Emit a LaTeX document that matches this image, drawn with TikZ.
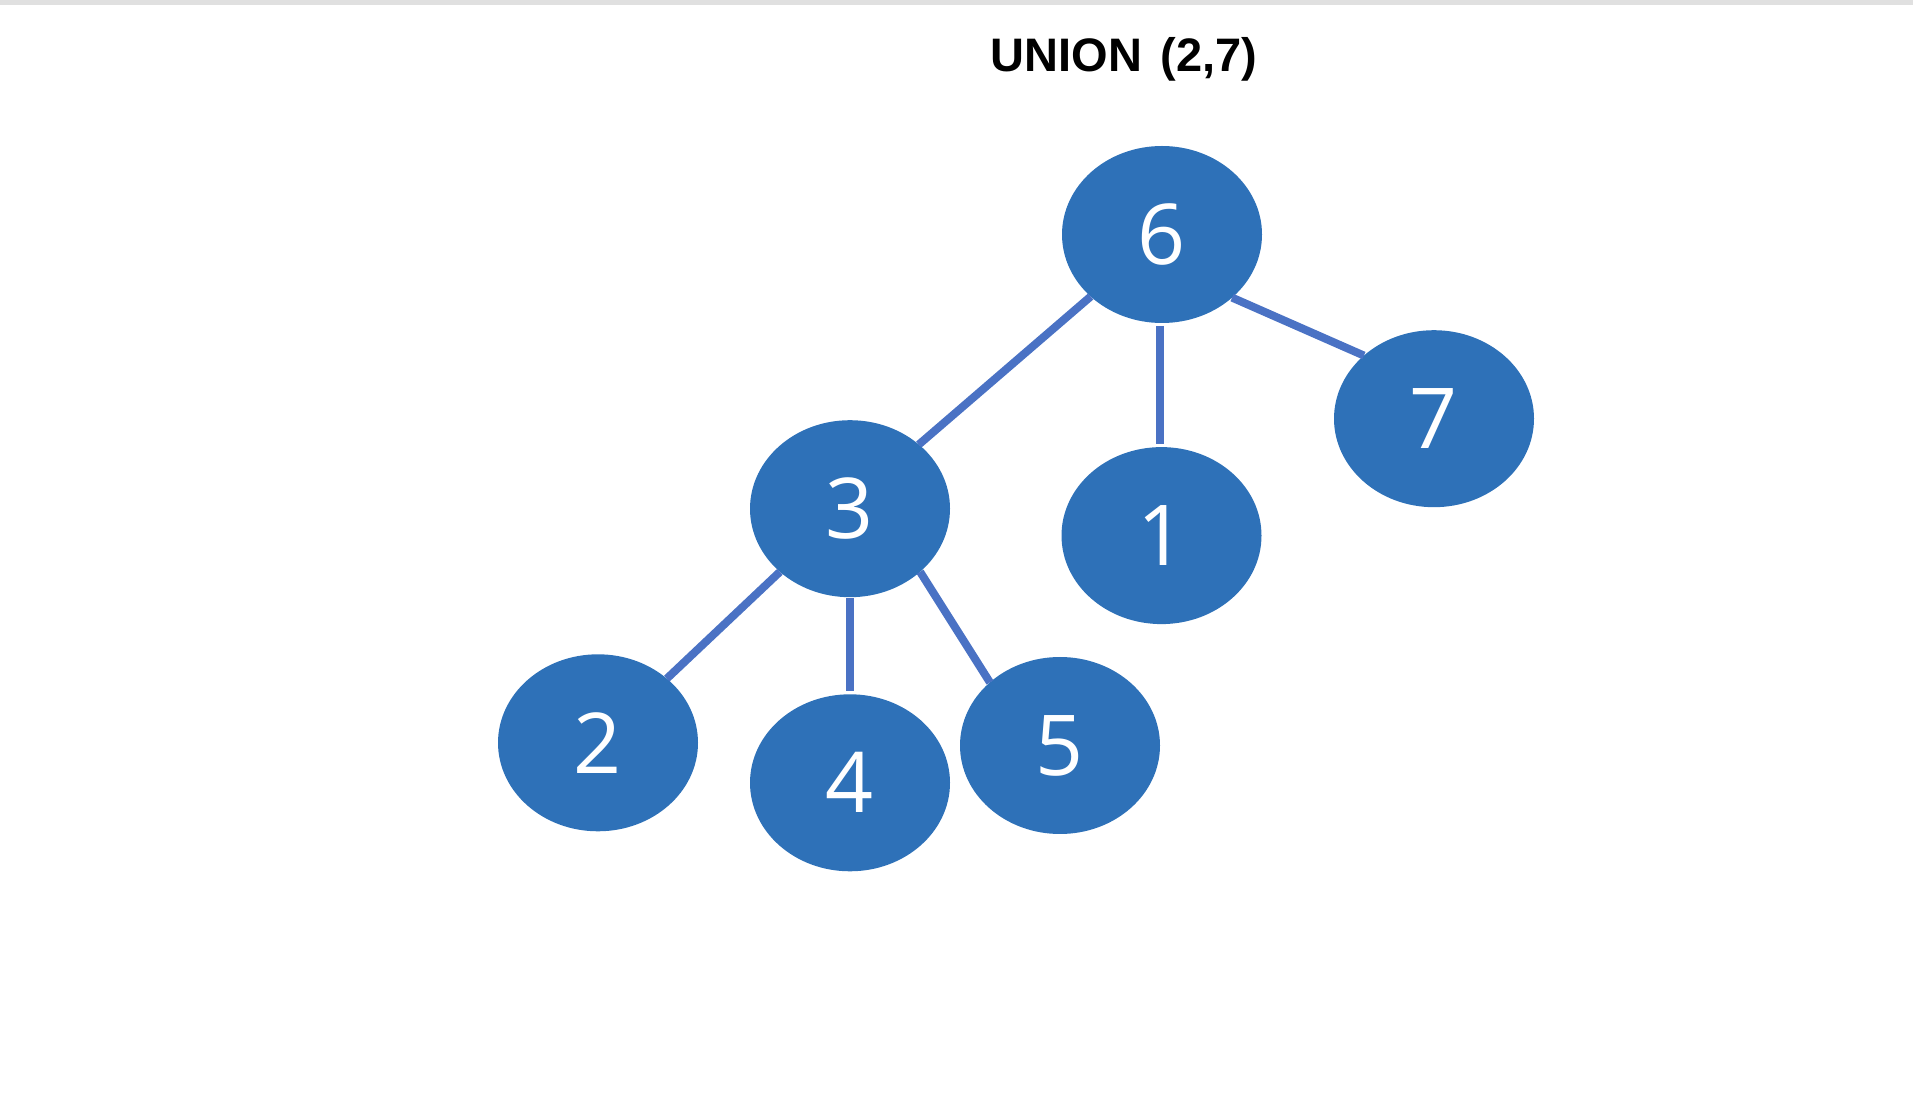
\documentclass[tikz,border=0pt]{standalone}
\usepackage{fontspec}
\setmainfont{Open Sans}
\newfontfamily\titlefont{Liberation Sans}
\usetikzlibrary{shapes.geometric}
\definecolor{nodeblue}{HTML}{2E71B8}
\definecolor{linkblue}{HTML}{4A72C4}
\begin{document}
\begin{tikzpicture}[x=0.5pt,y=-0.5pt,
  vtx/.style={ellipse, fill=nodeblue, minimum width=100pt, minimum height=88.5pt,
    inner sep=0pt, outer sep=0pt, text=white, font=\fontsize{42}{42}\selectfont},
  link/.style={draw=linkblue, line width=4pt},
  titlestyle/.style={font=\titlefont\bfseries\fontsize{23.5}{24}\selectfont, inner sep=0pt, anchor=base}]
\useasboundingbox (0,0) rectangle (1913,1106);
\fill[black!12] (0,0) rectangle (1913,5);
\node[titlestyle] (title) at (1124,71.7) {UNION\hspace{0.12em} (2,7)};
\node[vtx] (n6) at (1162,234.5) {6};
\node[vtx] (n3) at (850,508.7) {3};
\node[vtx] (n1) at (1161.5,535.6) {1};
\node[vtx] (n7) at (1434,418.7) {7};
\node[vtx] (n2) at (598,742.8) {2};
\node[vtx] (n4) at (850,782.8) {4};
\node[vtx] (n5) at (1060,745.5) {5};
\draw[link] (n6.221) -- (n3.43);
\draw[link, shorten <=1.5pt, shorten >=1.5pt] ([xshift=-1pt]n6.south) -- ([xshift=-0.75pt]n1.north);
\draw[link] (n6.-42) -- (n7.138);
\draw[link] (n3.222) -- (n2.43);
\draw[link, shorten <=0.5pt, shorten >=1.5pt] (n3.south) -- (n4.north);
\draw[link] (n3.-42) -- (n5.138);
\end{tikzpicture}
\end{document}
